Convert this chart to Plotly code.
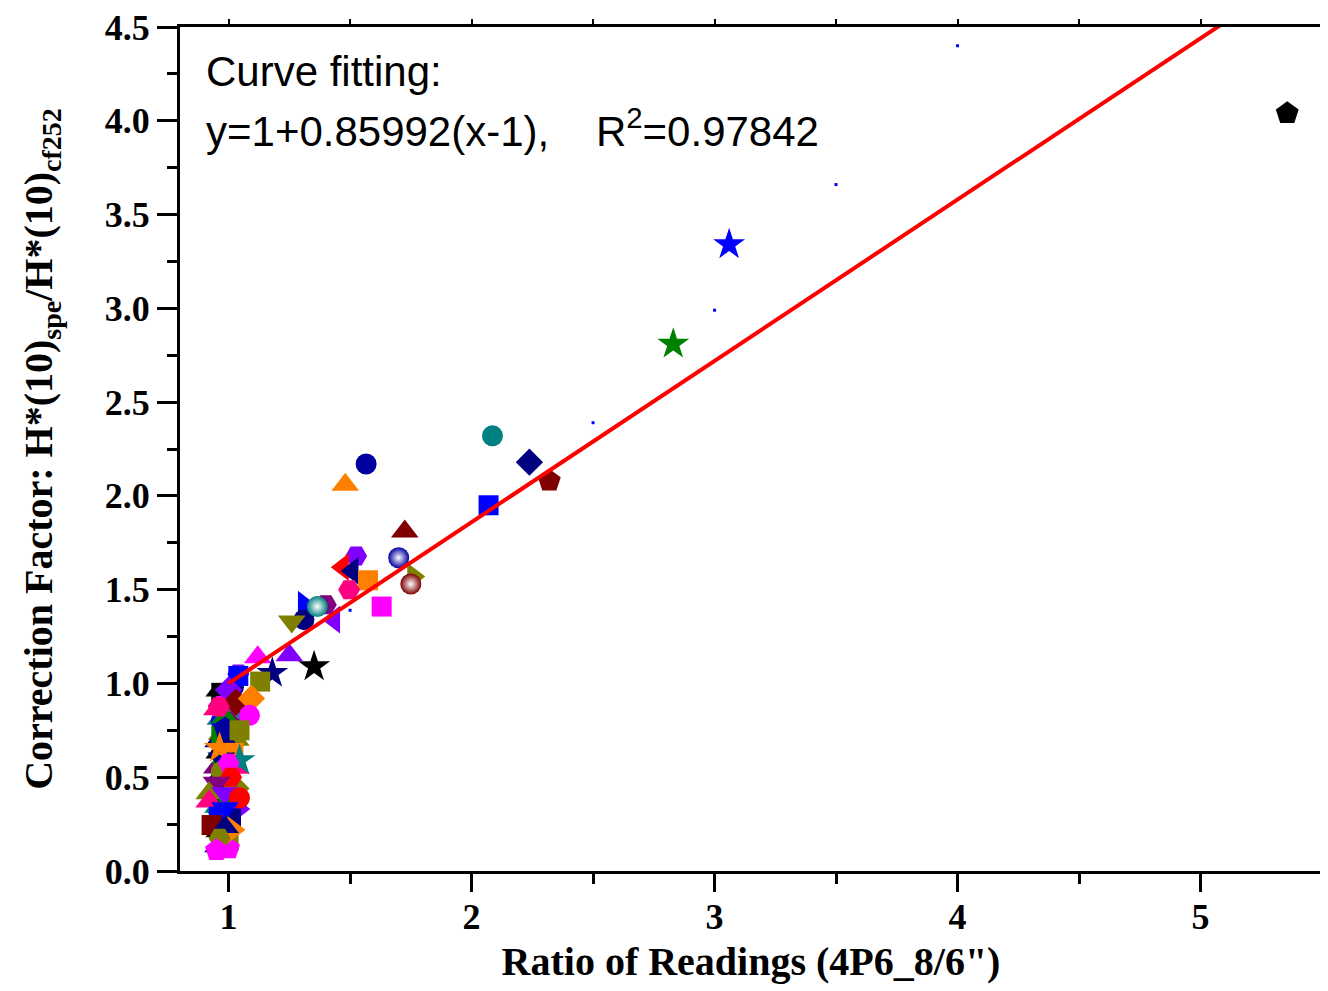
import plotly.graph_objects as go

# Origin-style default colours
BLK = '#000000'; RED = '#FF0000'; BLU = '#0000FF'; MAG = '#FF00FF'
OLV = '#808000'; NAV = '#000080'; VIO = '#8000FF'; PUR = '#800080'
WIN = '#800000'; DCY = '#008080'; ROY = '#0000A0'; ORG = '#FF8000'
PNK = '#FF0080'; GRN = '#008000'

# Ratio of readings (x) and correction factor (y), one entry per detector/spectrum
ratio = [
    5.357, 3.06, 2.83, 2.086, 2.238, 2.32, 2.07, 1.566, 1.48, 1.725,
    1.70, 1.76, 1.75, 1.63, 1.525, 1.47, 1.51, 1.574, 1.496, 1.40,
    1.31, 1.365, 1.434, 1.31, 1.26, 1.352, 1.25, 1.12, 1.18, 1.13,
    1.04, 1.04, 1.00, 1.03, 1.094, 1.086, 0.985, 0.96, 0.985, 1.045,
    0.963, 1.045, 1.00, 1.01, 0.95, 0.92, 0.985, 1.045, 0.92, 0.985,
    0.96, 1.02, 0.93, 0.985, 0.963, 0.95,
]
factor = [
    4.04, 3.34, 2.81, 2.32, 2.18, 2.08, 1.95, 2.17, 2.06, 1.81,
    1.67, 1.57, 1.53, 1.41, 1.68, 1.62, 1.60, 1.55, 1.50, 1.42,
    1.42, 1.41, 1.34, 1.34, 1.33, 1.09, 1.15, 1.14, 1.055, 1.01,
    1.05, 1.04, 0.965, 0.90, 0.92, 0.83, 0.82, 0.875, 0.76, 0.75,
    0.655, 0.59, 0.575, 0.50, 0.47, 0.415, 0.415, 0.39, 0.37, 0.335,
    0.29, 0.22, 0.245, 0.235, 0.175, 0.11,
]
symbol = [
    'pentagon', 'star', 'star', 'circle', 'diamond', 'pentagon', 'square', 'circle', 'triangle-up', 'triangle-up',
    'sphere', 'triangle-right', 'sphere', 'square', 'hexagon2', 'triangle-left', 'triangle-left', 'square', 'hexagon2', 'hexagon2',
    'triangle-right', 'sphere', 'triangle-left', 'circle', 'triangle-down', 'star', 'triangle-up', 'triangle-up', 'star', 'square',
    'hexagon2', 'square', 'diamond', 'diamond', 'diamond', 'circle', 'triangle-up', 'hexagon2', 'pentagon', 'square',
    'star', 'star', 'hexagon2', 'hexagon2', 'triangle-down', 'triangle-up', 'triangle-down', 'circle', 'triangle-up', 'triangle-down',
    'square', 'triangle-right', 'square', 'triangle-up', 'hexagon2', 'pentagon',
]
color = [
    BLK, BLU, GRN, DCY, NAV, WIN, BLU, ROY, ORG, WIN,
    ROY, OLV, WIN, MAG, VIO, RED, NAV, ORG, PNK, PUR,
    BLU, DCY, VIO, NAV, OLV, BLK, VIO, MAG, NAV, OLV,
    VIO, BLU, VIO, WIN, ORG, MAG, GRN, PNK, ROY, OLV,
    ORG, DCY, MAG, RED, PUR, OLV, VIO, RED, PNK, BLU,
    BLU, ORG, WIN, NAV, OLV, MAG,
]

# markers hidden underneath the crowded cluster near x = 1
cluster_ratio = [0.97, 1.02, 0.99, 1.05, 0.97, 1.01, 0.97, 1.03, 0.99, 1.02,
                 0.97, 1.03, 0.97, 0.99, 1.03, 0.96, 1.00, 1.04, 0.97, 1.01,
                 0.96, 1.00, 0.97, 1.00]
cluster_factor = [0.95, 0.98, 0.88, 0.86, 0.80, 0.78, 0.72, 0.70, 0.66, 0.63,
                  0.60, 0.55, 0.53, 0.44, 0.44, 0.40, 0.37, 0.33, 0.31, 0.28,
                  0.25, 0.16, 0.13, 0.12]
cluster_symbol = ['square', 'circle', 'square', 'triangle-down', 'circle', 'diamond', 'square', 'triangle-up',
                  'circle', 'square', 'triangle-down', 'triangle-up', 'circle', 'square', 'diamond', 'circle',
                  'square', 'triangle-right', 'diamond', 'square', 'circle', 'square', 'circle', 'pentagon']
cluster_color = [BLK, NAV, MAG, DCY, BLU, PUR, GRN, OLV, NAV, ORG, NAV, PNK,
                 OLV, PUR, OLV, NAV, GRN, VIO, GRN, NAV, WIN, OLV, DCY, MAG]

# small markers crowding the left edge of the cluster
edge_ratio = [0.94, 0.95, 0.93, 0.945, 0.95, 0.935, 0.94, 0.955, 0.93, 0.945,
              0.95, 0.94, 0.935, 0.96, 0.945, 0.94, 0.95, 0.935]
edge_factor = [0.95, 0.90, 0.85, 0.80, 0.72, 0.68, 0.62, 0.58, 0.54, 0.50,
               0.44, 0.40, 0.33, 0.30, 0.26, 0.20, 0.15, 0.12]
edge_color = [BLK, NAV, PNK, DCY, OLV, NAV, BLK, GRN, PUR, NAV,
              BLK, OLV, DCY, NAV, WIN, BLK, DCY, NAV]

# tiny dots along the upper diagonal
dot_ratio = [1.5, 2.5, 3.0, 3.5, 4.0]
dot_factor = [1.39, 2.39, 2.99, 3.66, 4.40]

# linear fit y = 1 + b (x - 1)
fit_slope = 0.85992
fit_x = [1.0, 5.5]

SIZE = {'circle': 21, 'square': 20, 'triangle-up': 24, 'triangle-down': 24, 'triangle-left': 24,
        'triangle-right': 24, 'diamond': 21, 'hexagon2': 22, 'star': 24, 'pentagon': 24, 'sphere': 21}

fig = go.Figure()

fig.add_trace(go.Scatter(
    x=edge_ratio, y=edge_factor, mode='markers', hoverinfo='skip',
    marker=dict(size=15, color=edge_color, symbol='triangle-up', line_width=0, opacity=1),
))

fig.add_trace(go.Scatter(
    x=cluster_ratio, y=cluster_factor, mode='markers', hoverinfo='skip',
    marker=dict(size=[SIZE[s] for s in cluster_symbol], color=cluster_color,
                symbol=cluster_symbol, line_width=0, opacity=1),
))

plain = [i for i, s in enumerate(symbol) if s != 'sphere']
fig.add_trace(go.Scatter(
    x=[ratio[i] for i in plain], y=[factor[i] for i in plain], mode='markers',
    marker=dict(size=[SIZE[symbol[i]] for i in plain], color=[color[i] for i in plain],
                symbol=[symbol[i] for i in plain], line_width=0, opacity=1),
))

spheres = [i for i, s in enumerate(symbol) if s == 'sphere']
fig.add_trace(go.Scatter(
    x=[ratio[i] for i in spheres], y=[factor[i] for i in spheres], mode='markers',
    marker=dict(size=SIZE['sphere'], color=[color[i] for i in spheres], symbol='circle', line_width=0,
                opacity=1, gradient=dict(type='radial', color='#FFFFFF')),
))

fig.add_trace(go.Scatter(
    x=dot_ratio, y=dot_factor, mode='markers', hoverinfo='skip',
    marker=dict(size=3, color=BLU, symbol='square', line_width=0),
))

fig.add_trace(go.Scatter(
    x=fit_x, y=[1 + fit_slope * (v - 1) for v in fit_x], mode='lines',
    line=dict(color=RED, width=4), xaxis='x2', yaxis='y2',
))

tick_font = dict(family='Liberation Serif', size=36, color='black', weight='bold')
title_font = dict(family='Liberation Serif', size=40, color='black', weight='bold')
xr = [0.8, 5.5]
yr = [0, 4.5]

# the page body keeps an 8px margin, so the figure is sized to fit inside the window
fig.update_layout(
    width=1320, height=983,
    margin=dict(l=172, r=6, t=19, b=120),
    paper_bgcolor='white', plot_bgcolor='white',
    showlegend=False,
    xaxis=dict(
        range=xr, tickmode='array', tickvals=[1, 2, 3, 4, 5], automargin=False,
        ticks='outside', ticklen=18, tickwidth=3, tickcolor='black',
        minor=dict(tickvals=[1.5, 2.5, 3.5, 4.5], ticks='outside', ticklen=10,
                   tickwidth=3, tickcolor='black'),
        showline=True, linewidth=3, linecolor='black', showgrid=False, zeroline=False,
        tickfont=tick_font, ticklabelstandoff=-6, ticklabeloverflow='allow',
        title=dict(text='Ratio of Readings (4P6_8/6")', font=title_font, standoff=11),
    ),
    yaxis=dict(
        range=yr, tickmode='array', tickvals=[0, 0.5, 1, 1.5, 2, 2.5, 3, 3.5, 4, 4.5],
        ticktext=['0.0', '0.5', '1.0', '1.5', '2.0', '2.5', '3.0', '3.5', '4.0', '4.5'],
        automargin=False, ticklabeloverflow='allow',
        ticks='outside', ticklen=20, tickwidth=3, tickcolor='black',
        minor=dict(tickvals=[0.25, 0.75, 1.25, 1.75, 2.25, 2.75, 3.25, 3.75, 4.25],
                   ticks='outside', ticklen=10, tickwidth=3, tickcolor='black'),
        showline=True, linewidth=3, linecolor='black', showgrid=False, zeroline=False,
        tickfont=tick_font,
        title=dict(text='Correction Factor: H*(10)<sub>spe</sub>/H*(10)<sub>cf252</sub>',
                   font=title_font, standoff=40),
    ),
    xaxis2=dict(
        range=xr, overlaying='x', side='top', anchor='y2', automargin=False,
        tickvals=[1, 2, 3, 4, 5], ticks='outside', ticklen=5, tickwidth=2, tickcolor='black',
        minor=dict(tickvals=[1.5, 2.5, 3.5, 4.5], ticks='outside', ticklen=5, tickwidth=2),
        showline=True, linewidth=3, linecolor='black', showticklabels=False,
        showgrid=False, zeroline=False,
    ),
    yaxis2=dict(
        range=yr, overlaying='y', side='right', anchor='x2', automargin=False,
        tickvals=[0, 0.5, 1, 1.5, 2, 2.5, 3, 3.5, 4, 4.5], ticks='outside', ticklen=5,
        tickwidth=2, tickcolor='black',
        minor=dict(tickvals=[0.25, 0.75, 1.25, 1.75, 2.25, 2.75, 3.25, 3.75, 4.25],
                   ticks='outside', ticklen=5, tickwidth=2),
        showline=True, linewidth=3, linecolor='black', showticklabels=False,
        showgrid=False, zeroline=False,
    ),
    annotations=[
        dict(text='Curve fitting:', xref='paper', yref='paper', x=0.021, y=0.947,
             xanchor='left', yanchor='middle', showarrow=False,
             font=dict(family='Liberation Sans', size=42, color='black')),
        dict(text='y=1+0.85992(x-1),    R<sup>2</sup>=0.97842', xref='paper', yref='paper',
             x=0.021, y=0.880, xanchor='left', yanchor='middle', showarrow=False,
             font=dict(family='Liberation Sans', size=42, color='black')),
    ],
)

fig.write_html("out.html")
